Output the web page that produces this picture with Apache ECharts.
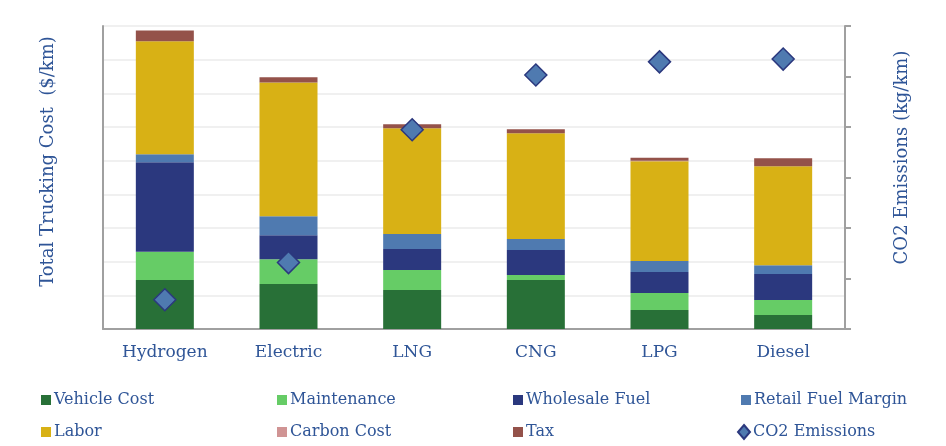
<!DOCTYPE html>
<html>
<head>
<meta charset="utf-8">
<script src="https://cdn.jsdelivr.net/npm/echarts@6/dist/echarts.min.js"></script>
<style>
  html, body { margin: 0; padding: 0; background: #fff; }
  #main { width: 946px; height: 446px; }
</style>
</head>
<body>
<div id="main"></div>
<script>
// categories and values ($/km, kg/km)
var fuels = ['Hydrogen', 'Electric', 'LNG', 'CNG', 'LPG', 'Diesel'];
var vehicleCost   = [0.291, 0.267, 0.231, 0.291, 0.113, 0.083];
var maintenance   = [0.168, 0.148, 0.119, 0.030, 0.101, 0.089];
var wholesaleFuel = [0.532, 0.142, 0.125, 0.148, 0.125, 0.154];
var retailMargin  = [0.047, 0.113, 0.089, 0.065, 0.065, 0.053];
var labor         = [0.671, 0.795, 0.629, 0.629, 0.593, 0.588];
var carbonCost    = [0, 0, 0, 0, 0.003, 0];
var tax           = [0.065, 0.030, 0.024, 0.024, 0.018, 0.047];
var co2           = [0.116, 0.263, 0.789, 1.006, 1.058, 1.069];

var textBlue = '#2f5597';
var serif = '"DejaVu Serif", "Liberation Serif", serif';

var myChart = echarts.init(document.getElementById('main'));

function barSeries(name, data, color) {
    return {
        name: name,
        type: 'bar',
        stack: 'cost',
        barWidth: 58,
        data: data,
        itemStyle: { color: color }
    };
}

// one legend per item so the columns line up like the original
var legendItems = [
    ['Vehicle Cost', 36, 387], ['Maintenance', 272, 387], ['Wholesale Fuel', 508, 387], ['Retail Fuel Margin', 736, 387],
    ['Labor', 36, 419], ['Carbon Cost', 272, 419], ['Tax', 508, 419], ['CO2 Emissions', 732, 419]
];
var legends = legendItems.map(function (it) {
    var isCo2 = it[0] === 'CO2 Emissions';
    return {
        data: [{ name: it[0], icon: isCo2 ? 'diamond' : 'rect' }],
        left: it[1],
        top: it[2],
        itemWidth: isCo2 ? 12 : 10,
        itemHeight: isCo2 ? 14 : 10,
        itemGap: 4,
        selectedMode: false,
        textStyle: { color: textBlue, fontFamily: serif, fontSize: 16, padding: [0, 0, 0, -2] }
    };
});

option = {
    animation: false,
    legend: legends,
    grid: { left: 103, right: 101, top: 26, bottom: 117 },
    xAxis: {
        type: 'category',
        data: fuels,
        axisTick: { show: false },
        axisLine: { lineStyle: { color: '#a0a0a0', width: 2 } },
        axisLabel: { color: textBlue, fontFamily: serif, fontSize: 17, margin: 15 }
    },
    yAxis: [{
        type: 'value',
        min: 0,
        max: 1.8,
        interval: 0.2,
        name: 'Total Trucking Cost  ($/km)',
        nameLocation: 'middle',
        nameGap: 46,
        // titles sit a bit above the middle in the original
        nameTextStyle: { color: textBlue, fontFamily: serif, fontSize: 18, padding: [0, 0, 0, 32] },
        axisLabel: { show: false },
        axisTick: { show: false },
        axisLine: { show: true, lineStyle: { color: '#a0a0a0', width: 2 } },
        splitLine: { lineStyle: { color: '#f0f0f0', width: 2 } }
    }, {
        type: 'value',
        min: 0,
        max: 1.2,
        interval: 0.2,
        position: 'right',
        name: 'CO2 Emissions (kg/km)',
        nameLocation: 'middle',
        nameGap: 48,
        nameRotate: 90,
        nameTextStyle: { color: textBlue, fontFamily: serif, fontSize: 18, padding: [0, 0, 0, 40] },
        axisLabel: { show: false },
        axisTick: { show: true, length: 6, lineStyle: { color: '#a0a0a0', width: 2 } },
        axisLine: { show: true, lineStyle: { color: '#a0a0a0', width: 2 } },
        splitLine: { show: false }
    }],
    series: [
        barSeries('Vehicle Cost', vehicleCost, '#287037'),
        barSeries('Maintenance', maintenance, '#66cc66'),
        barSeries('Wholesale Fuel', wholesaleFuel, '#2b387e'),
        barSeries('Retail Fuel Margin', retailMargin, '#4f7ab0'),
        barSeries('Labor', labor, '#d8b115'),
        barSeries('Carbon Cost', carbonCost, '#d09494'),
        barSeries('Tax', tax, '#94524a'),
        {
            name: 'CO2 Emissions',
            type: 'scatter',
            yAxisIndex: 1,
            symbol: 'diamond',
            symbolSize: [22, 22],
            data: co2,
            z: 5,
            itemStyle: { color: '#4f7ab0', borderColor: '#2b387e', borderWidth: 1.5, opacity: 1 }
        }
    ]
};
myChart.setOption(option, true);
</script>
</body>
</html>
